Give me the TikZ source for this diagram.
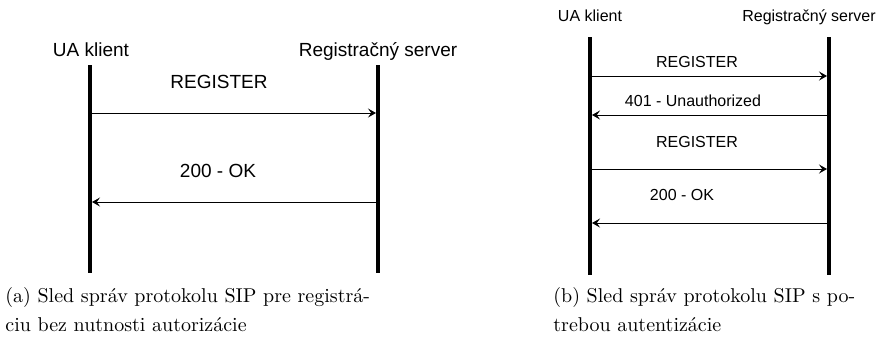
\documentclass[tikz,border=0pt]{standalone}
\usepackage{fontspec}
\newfontfamily\diagfont{Liberation Sans}
\usetikzlibrary{arrows.meta, positioning}

\begin{document}
\begin{tikzpicture}[x=0.5pt, y=-0.5pt,
		lifeline/.style={line width=2pt},
		msg/.style={line width=0.5pt, -{Stealth[length=4pt, width=4.5pt, inset=1.6pt]}, shorten >=1pt, shorten <=1pt},
		bigtext/.style={font=\diagfont\fontsize{9.5}{11}\selectfont, inner sep=0pt, anchor=base},
		smalltext/.style={font=\diagfont\fontsize{8}{10}\selectfont, inner sep=0pt, anchor=base},
		caption/.style={font=\fontsize{10}{14.5}\selectfont, inner sep=0pt, anchor=north west, align=left}]
		\useasboundingbox (0,0) rectangle (878,345);

		% (a) registracia bez autorizacie
		\node[bigtext] (ua-a) at (91,56) {UA klient};
		\node[bigtext] (srv-a) at (378,56) {Registračný server};
		\coordinate (ua-a-top) at (90,65);
		\coordinate (ua-a-bot) at (90,273);
		\coordinate (srv-a-top) at (378,65);
		\coordinate (srv-a-bot) at (378,273);
		\draw[lifeline] (ua-a-top) -- (ua-a-bot);
		\draw[lifeline] (srv-a-top) -- (srv-a-bot);
		\coordinate (ua-a1) at (90,113);
		\coordinate (srv-a1) at (378,113);
		\coordinate (ua-a2) at (90,202);
		\coordinate (srv-a2) at (378,202);
		\draw[msg] (ua-a1) -- (srv-a1);
		\draw[msg] (srv-a2) -- (ua-a2);
		\node[bigtext] (reg-a) at (219,88) {REGISTER};
		\node[bigtext] (ok-a) at (218,177) {200 - OK};

		% (b) registracia s autentizaciou
		\node[smalltext] (ua-b) at (590,21) {UA klient};
		\node[smalltext] (srv-b) at (809,21) {Registračný server};
		\coordinate (ua-b-top) at (590,37);
		\coordinate (ua-b-bot) at (590,275);
		\coordinate (srv-b-top) at (829,37);
		\coordinate (srv-b-bot) at (829,275);
		\draw[lifeline] (ua-b-top) -- (ua-b-bot);
		\draw[lifeline] (srv-b-top) -- (srv-b-bot);
		\foreach \i/\y in {1/76, 2/115, 3/169, 4/223} {
			\coordinate (ua-b\i) at (590,\y);
			\coordinate (srv-b\i) at (829,\y);
		}
		\draw[msg] (ua-b1) -- (srv-b1);
		\draw[msg] (srv-b2) -- (ua-b2);
		\draw[msg] (ua-b3) -- (srv-b3);
		\draw[msg] (srv-b4) -- (ua-b4);
		\node[smalltext] (reg-b1) at (697,67) {REGISTER};
		\node[smalltext] (unauth-b) at (693,106) {401 - Unauthorized};
		\node[smalltext] (reg-b2) at (697,147) {REGISTER};
		\node[smalltext] (ok-b) at (682,200) {200 - OK};

		% popisky
		\node[caption] (cap-a) at (5,287) {(a) Sled správ protokolu SIP pre registrá-\\ciu bez nutnosti autorizácie};
		\node[caption] (cap-b) at (553,287) {(b) Sled správ protokolu SIP s po-\\trebou autentizácie};
	\end{tikzpicture}
\end{document}
